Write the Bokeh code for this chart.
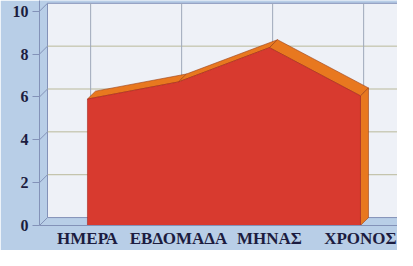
from bokeh.plotting import figure
from bokeh.models import FixedTicker, Range1d
from bokeh.embed import file_html
from bokeh.resources import INLINE

# ---- data ----
categories = ["ΗΜΕΡΑ", "ΕΒΔΟΜΑΔΑ", "ΜΗΝΑΣ", "ΧΡΟΝΟΣ"]
values = [5.9, 6.7, 8.3, 6.05]
y_ticks = [0, 2, 4, 6, 8, 10]

# ---- style ----
BG = "#b8cee7"
WALL = "#eef1f7"
RED = "#d83a2f"
ORANGE = "#e8781f"
TEXT = "#1c1c40"
EDGE = "#8392b8"
GRID_H = "#b9b99a"
GRID_V = "#9ea8ba"

DX = 0.088   # 3-D depth offset (x, data units)
DY = 0.37    # 3-D depth offset (y, data units)
GX = 0.035   # back-wall gridline offset
X0, X1 = -0.527, 3.407
Y1 = 10.5

p = figure(width=397, height=250, x_range=Range1d(X0, X1), y_range=Range1d(0, Y1),
           output_backend="svg", toolbar_location=None,
           min_border_left=39, min_border_right=0, min_border_top=0, min_border_bottom=25)
p.background_fill_color = BG
p.border_fill_color = BG
p.outline_line_color = None
p.xgrid.visible = False
p.ygrid.visible = False

n = len(categories)
xs = list(range(n))
top = y_ticks[-1] + DY

# back wall
p.quad(left=X0 + DX, right=X1, bottom=DY, top=top, fill_color=WALL,
       line_color=EDGE, line_width=1)
# horizontal gridlines on back wall
p.segment(x0=[X0 + DX] * (len(y_ticks) - 2), x1=[X1] * (len(y_ticks) - 2),
          y0=[t + DY for t in y_ticks[1:-1]], y1=[t + DY for t in y_ticks[1:-1]],
          line_color=GRID_H, line_width=1)
# vertical gridlines on back wall
p.segment(x0=[x + GX for x in xs], x1=[x + GX for x in xs],
          y0=[DY] * n, y1=[top] * n, line_color=GRID_V, line_width=1)
# tick connectors from front axis to back wall
p.segment(x0=[X0] * len(y_ticks), x1=[X0 + DX] * len(y_ticks),
          y0=y_ticks, y1=[t + DY for t in y_ticks], line_color=EDGE, line_width=1)

# depth faces (orange)
fx, fy = [], []
for i in range(n - 1):
    fx.append([xs[i], xs[i + 1], xs[i + 1] + DX, xs[i] + DX])
    fy.append([values[i], values[i + 1], values[i + 1] + DY, values[i] + DY])
fx.append([xs[-1], xs[-1] + DX, xs[-1] + DX, xs[-1]])
fy.append([0, DY, values[-1] + DY, values[-1]])
p.patches(fx, fy, fill_color=ORANGE, line_color="#9a3c12", line_width=0.6)

# front face (red)
p.patch([xs[0]] + xs + [xs[-1]], [0] + values + [0], fill_color=RED,
        line_color="#a8281f", line_width=0.6)

# axes
p.yaxis.ticker = FixedTicker(ticks=y_ticks)
p.yaxis.major_tick_out = 7
p.yaxis.major_tick_in = 0
p.yaxis.minor_tick_line_color = None
p.yaxis.axis_line_color = EDGE
p.yaxis.major_tick_line_color = EDGE
p.yaxis.major_label_standoff = 4
p.yaxis.major_label_text_font = "Liberation Serif"
p.yaxis.major_label_text_font_style = "bold"
p.yaxis.major_label_text_font_size = "16px"
p.yaxis.major_label_text_color = TEXT

p.xaxis.ticker = FixedTicker(ticks=xs)
p.xaxis.major_label_overrides = {i: c for i, c in zip(xs, categories)}
p.xaxis.major_tick_out = 0
p.xaxis.major_tick_in = 0
p.xaxis.minor_tick_line_color = None
p.xaxis.axis_line_color = EDGE
p.xaxis.major_label_standoff = 3
p.xaxis.major_label_text_font = "Liberation Serif"
p.xaxis.major_label_text_font_style = "bold"
p.xaxis.major_label_text_font_size = "17px"
p.xaxis.major_label_text_color = TEXT

open("out.html", "w").write(file_html(p, INLINE))
